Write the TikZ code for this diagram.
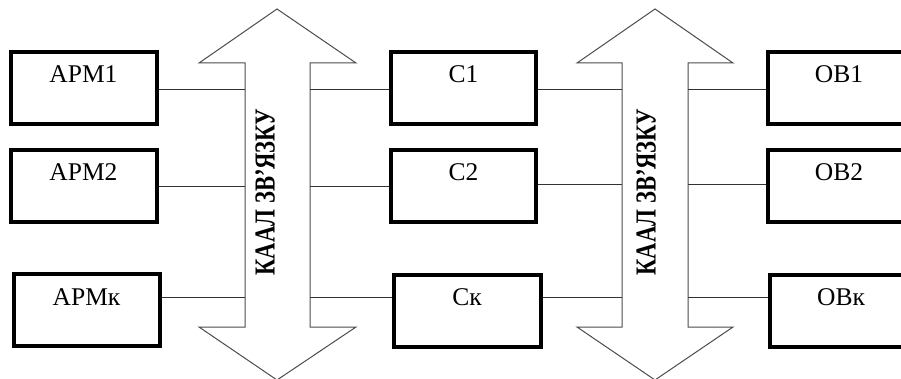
\documentclass[tikz,border=0pt]{standalone}
\usepackage{fontspec}
\setmainfont{Liberation Serif}
\begin{document}
\begin{tikzpicture}[x=1pt,y=-1pt,
  unit/.style={draw=black,line width=4pt,fill=white,rectangle,
    minimum width=146pt,minimum height=72pt,inner sep=0pt},
  unitlabel/.style={anchor=base,font=\fontsize{25.5}{25.5}\selectfont,inner sep=0pt},
  bus/.style={draw=black!70,line width=1pt,fill=white,line join=miter},
  link/.style={draw=black!80,line width=1pt},
  busname/.style={rotate=90,font=\fontsize{29}{29}\selectfont\bfseries,inner sep=0pt}]
\useasboundingbox (0,0) rectangle (901,379);
\fill[white] (0,0) rectangle (901,379);

% communication channels drawn as double-headed arrows
\draw[bus] (277,9) -- (356,63) -- (310,63) -- (310,327) -- (356,327)
  -- (277,380) -- (199,327) -- (245,327) -- (245,63) -- (199,63) -- cycle;
\draw[bus] (655,9) -- (733,63) -- (688,63) -- (688,327) -- (733,327)
  -- (655,380) -- (577,327) -- (622,327) -- (622,63) -- (577,63) -- cycle;
\node[busname] (busA) at (265,192) {\scalebox{0.78}[1]{КААЛ ЗВ’ЯЗКУ}};
\node[busname] (busB) at (646,192) {\scalebox{0.78}[1]{КААЛ ЗВ’ЯЗКУ}};

% workstations, servers, objects
\node[unit] (arm1) at (83.5,88.5) {};
\node[unit] (arm2) at (83.5,186.5) {};
\node[unit] (armk) at (86.5,310) {};
\node[unit,minimum width=145pt] (s1) at (463.5,88.5) {};
\node[unit,minimum width=145pt] (s2) at (463.5,186.5) {};
\node[unit,minimum width=147pt] (sk) at (467,310.5) {};
\node[unit] (ob1) at (841,88.5) {};
\node[unit] (ob2) at (841,186.5) {};
\node[unit] (obk) at (843,310.5) {};

\node[unitlabel] (tarm1) at ([yshift=-32pt]arm1.north) {АРМ1};
\node[unitlabel] (tarm2) at ([yshift=-32pt]arm2.north) {АРМ2};
\node[unitlabel] (tarmk) at ([yshift=-33pt]armk.north) {АРМк};
\node[unitlabel] (ts1) at ([yshift=-32pt]s1.north) {С1};
\node[unitlabel] (ts2) at ([yshift=-32pt]s2.north) {С2};
\node[unitlabel] (tsk) at ([yshift=-33pt]sk.north) {Ск};
\node[unitlabel,xshift=-2pt] (tob1) at ([yshift=-32pt]ob1.north) {ОВ1};
\node[unitlabel,xshift=-2pt] (tob2) at ([yshift=-32pt]ob2.north) {ОВ2};
\node[unitlabel,xshift=-2pt] (tobk) at ([yshift=-33pt]obk.north) {ОВк};

% attachment points on the channel shafts
\coordinate (a1l) at (245,90);  \coordinate (a1r) at (310,90);
\coordinate (a2l) at (245,187); \coordinate (a2r) at (310,187);
\coordinate (a3l) at (245,297); \coordinate (a3r) at (310,297);
\coordinate (b1l) at (622,90);  \coordinate (b1r) at (688,90);
\coordinate (b2l) at (622,185); \coordinate (b2r) at (688,185);
\coordinate (b3l) at (622,297); \coordinate (b3r) at (688,297);

% links to the channels
\draw[link] (arm1.east |- a1l) -- (a1l);
\draw[link] (arm2.east |- a2l) -- (a2l);
\draw[link] (armk.east |- a3l) -- (a3l);
\draw[link] (a1r) -- (s1.west |- a1r);
\draw[link] (a2r) -- (s2.west |- a2r);
\draw[link] (a3r) -- (sk.west |- a3r);
\draw[link] (s1.east |- b1l) -- (b1l);
\draw[link] (s2.east |- b2l) -- (b2l);
\draw[link] (sk.east |- b3l) -- (b3l);
\draw[link] (b1r) -- (ob1.west |- b1r);
\draw[link] (b2r) -- (ob2.west |- b2r);
\draw[link] (b3r) -- (obk.west |- b3r);
\end{tikzpicture}
\end{document}
